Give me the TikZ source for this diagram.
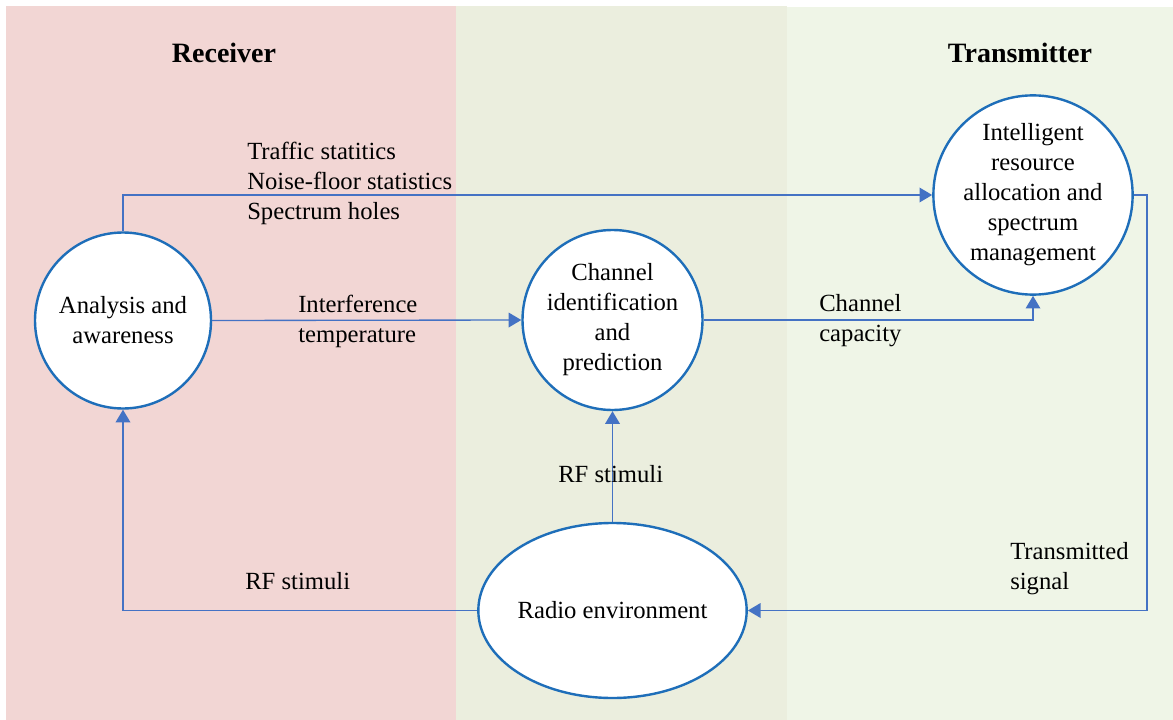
\documentclass[tikz,border=0pt]{standalone}
\usepackage{fontspec}
\setmainfont{Liberation Serif}
\usetikzlibrary{arrows.meta,shapes.geometric}
\definecolor{pinkbg}{RGB}{242,214,212}
\definecolor{olivebg}{RGB}{235,238,222}
\definecolor{greenbg}{RGB}{239,245,231}
\definecolor{edgeblue}{RGB}{30,110,185}
\definecolor{connblue}{RGB}{68,114,196}
\tikzset{
  txt/.style={font=\fontsize{18.5pt}{22.5pt}\selectfont, inner sep=0pt},
  bubble/.style={circle, draw=edgeblue, line width=1.8pt, fill=white, inner sep=0pt, align=center, txt},
  conn/.style={draw=connblue, line width=1pt, -{Triangle[length=9.5pt,width=11pt]}},
  lbl/.style={txt, align=left, anchor=west},
  ttl/.style={font=\fontsize{21pt}{25pt}\selectfont\bfseries, inner sep=0pt}
}
\begin{document}
\begin{tikzpicture}[x=0.75pt,y=-0.75pt]
\useasboundingbox (0,0) rectangle (1173,720);
\fill[pinkbg] (6,6) rectangle (456,720);
\fill[olivebg] (456,6) rectangle (787,720);
\fill[greenbg] (787,7) rectangle (1173,720);

\node[ttl] (rx) at (224,53) {Receiver};
\node[ttl] (tx) at (1020,53) {Transmitter};

\node[bubble, minimum size=132pt] (ana) at (123,320.5) {Analysis and\\awareness};
\node[bubble, minimum size=135pt] (chan) at (612.5,320) {Channel\\identification\\and\\prediction};
\node[bubble, minimum size=145.5pt] (int) at (1033,195) {Intelligent\\resource\\allocation and\\spectrum\\management};
\node[ellipse, draw=edgeblue, line width=1.8pt, fill=white, inner sep=0pt, txt,
      minimum width=198.75pt, minimum height=131.25pt] (radio) at (612.5,610.5) {Radio environment};

\coordinate (rc) at (1147,195);
\draw[conn] (ana.north) |- (int.west);
\draw[conn] (ana.east) -- (chan.west);
\draw[conn] (chan.east) -| (int.south);
\draw[conn] (radio.north) -- (chan.south);
\draw[conn] (radio.west) -| (ana.south);
\draw[conn] (int.east) -- (rc) |- (radio.east);

\node[lbl] (l1) at (247,183) {Traffic statitics\\Noise-floor statistics\\Spectrum holes};
\node[lbl] (l2) at (298,321) {Interference\\temperature};
\node[lbl] (l3) at (819,321) {Channel\\capacity};
\node[lbl] (l4) at (558,474) {RF stimuli};
\node[lbl] (l5) at (245,581) {RF stimuli};
\node[lbl] (l6) at (1010,568.5) {Transmitted\\signal};
\end{tikzpicture}
\end{document}
